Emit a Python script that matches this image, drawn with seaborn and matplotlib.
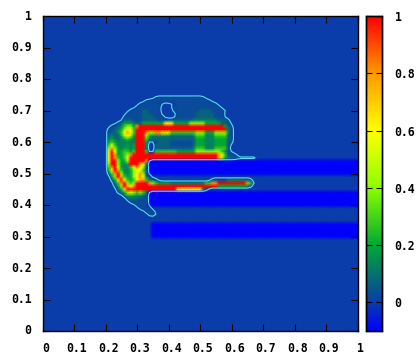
import numpy as np
import matplotlib
matplotlib.use("Agg")
import matplotlib.pyplot as plt
from matplotlib.colors import LinearSegmentedColormap
from matplotlib.transforms import ScaledTranslation
import seaborn as sns

tick_labels = ["0", "0.1", "0.2", "0.3", "0.4", "0.5", "0.6", "0.7", "0.8", "0.9", "1"]
tick_values = [0, 10, 20, 30, 40, 50, 60, 70, 80, 90, 100]
cbar_values = [0, 0.2, 0.4, 0.6, 0.8, 1]
cbar_labels = ["0", "0.2", "0.4", "0.6", "0.8", "1"]

# blue strips: (top row, bottom row, first column), grid step 0.01
strips = [(54, 50, 34), (44, 40, 34), (34, 30, 35)]
strip_value = -0.1

# field, one string per grid row, starting at column x=0.18
level_of = {'.': 0, 'a': .025, 'b': .07, 'c': .13, 'd': .2, 'e': .28, 'f': .4,
            'g': .58, 'h': .8, 'i': 1.0}
first_col = 18
field_rows = {
74: "..................aaaaaaaaaaaaaaaa",
73: "...............aaaaaaaaaaaaaaaaaaaaa",
72: ".............aaaaaaa.....aaaaaaaaaaaaa",
71: "............aaaaaaaa...aaaaaaaaaaaaaaaa",
70: "..........aaaabbaaaa....aaaaaaaabbbbaaaaa",
69: ".........aaaaabbbaaa.....aaaaaabbbbbbaaa",
68: "........aaaaaabbbbaaa....aaaaaabbbbbbaaa",
67: "........bbbaaabbbbbaaabbbbbbbbccccccccbbbb",
66: "......abdddcbbdddddddgggdddddfffffdddddbba",
65: "....aabceffdhiiiiiiiiiiiiiiiiiiiiiiiiiiidba",
64: "...aabcdfggeiiiiiiiiiiiiiiiiiiiiiiiiiiiiica",
63: "...abbceghgeiiihffhhgggeeeeeeeefffdddffffca",
62: "...bcbbdfgfdiiifdccccccbbbbbbbceeeccceeeeba",
61: "...cdcbcdedciiiecbbbbbbbbbbbbbbdddcccddddba",
60: "...dedcccccciiid..abbbbaaaaaaabdddcccddddba",
59: "...egecccdcdiiic..bbbbbaaaaaaabdddcccdddda",
58: "...fhfdcddcdiiic..bbbbbbbbbbbbceeeccceeeea",
57: "...gigddeedeiiie..eeeeeeeddddddffffffffeca",
56: "...gihddefhiiiiiiiiiiiiiiiiiiiiiiiiiiihgeaaa",
55: "...gihedegiiiiiiiiiiiiiiiiiiiiiiiiiiiihfdcbbbaaaaaa",
54: "...giifddfiiiiih",
53: "...fiifdcdiiihgb",
52: "...ehigdccegh" + "gfa",
51: "...dgihecc" + "dfggea",
50: "...behifdcdfghfa",
49: "....cfiheddfghgca",
48: "....bdgigedeghhecba.................aaaaaccccccba",
47: ".....behifefiiiihfeddddccccccccccceehhiiiiiiiiihea",
46: ".....acfihghiiiiiiiiiiiiiiiiiiiiiiiiiidddddddddca",
45: "......bdgiiiiiiiiiiiiiiiiggggggggca",
44: "......abdfgfefec",
43: "........bdddccba",
42: ".........abbbaaa",
41: "..........aaaaaa",
40: "............aaaa",
39: ".............aaaa",
38: "...............aaa",
37: "................aaa",
}

grid = np.zeros((101, 101))
for top, bottom, start in strips:
    grid[bottom:top + 1, start:] = strip_value
for row, text in field_rows.items():
    for i, ch in enumerate(text):
        if row not in (54, 53, 52, 51, 50, 44, 43, 42, 41, 40) or ch != '.':
            grid[row, first_col + i] = level_of[ch]

# outline: the boundary of the raised region, lightly rounded
inside = (grid > 0).astype(float)
rounded = inside.copy()
for axis_no in (0, 1):
    rounded = (np.roll(rounded, 1, axis_no) + 2 * rounded + np.roll(rounded, -1, axis_no)) / 4

palette = LinearSegmentedColormap.from_list("field", [
    (0.0, (0.0, 0.0, 1.0)),
    (0.1 / 1.1, (0.04, 0.24, 0.66)),
    (0.3 / 1.1, (0.0, 0.66, 0.2)),
    (0.5 / 1.1, (0.55, 1.0, 0.0)),
    (0.7 / 1.1, (1.0, 1.0, 0.0)),
    (0.9 / 1.1, (1.0, 0.6, 0.0)),
    (1.0, (1.0, 0.0, 0.0)),
])

plt.rcParams['font.family'] = ['DejaVu Sans Mono']
plt.rcParams['font.weight'] = 'bold'
plt.rcParams['font.size'] = 8.3

W, H = 420.0, 360.0
fig = plt.figure(figsize=(4.2, 3.6), dpi=100, facecolor="white")
ax = fig.add_axes([42.5 / W, (H - 331) / H, 315 / W, 315 / H])
cax = fig.add_axes([365.5 / W, (H - 331) / H, 16.5 / W, 315 / H])

sns.heatmap(grid, ax=ax, cbar_ax=cax, cmap=palette, vmin=-0.1, vmax=1,
            shading="gouraud", cbar_kws={"ticks": cbar_values}, square=False)
ax.contour(np.arange(101), np.arange(101), rounded, levels=[0.44],
           colors=[(0.35, 0.85, 0.95)], linewidths=0.8)

ax.set_xlim(0, 100)
ax.set_ylim(0, 100)
ax.set_xticks(tick_values)
ax.set_xticklabels(tick_labels, rotation=0)
ax.set_yticks(tick_values)
ax.set_yticklabels(tick_labels, rotation=0, va="center")
ax.tick_params(axis="both", direction="in", length=5, width=0.8, color="black",
               top=True, right=True, bottom=True, left=True, labelcolor="black")
ax.tick_params(axis="x", pad=8)
ax.tick_params(axis="y", pad=8)
shift = ScaledTranslation(3 / 100, 0, fig.dpi_scale_trans)
for lab in ax.get_xticklabels():
    lab.set_transform(lab.get_transform() + shift)
for side in ax.spines.values():
    side.set_visible(True)
    side.set_linewidth(1.0)
    side.set_color("black")
    side.set_zorder(5)

cax.set_yticks(cbar_values)
cax.set_yticklabels(cbar_labels)
cax.tick_params(axis="y", direction="in", length=4, width=0.8, color="black",
                left=True, right=True, labelright=True, pad=9)
for side in cax.spines.values():
    side.set_visible(True)
    side.set_linewidth(1.0)
    side.set_color("black")

fig.savefig("out.png", dpi=100)
